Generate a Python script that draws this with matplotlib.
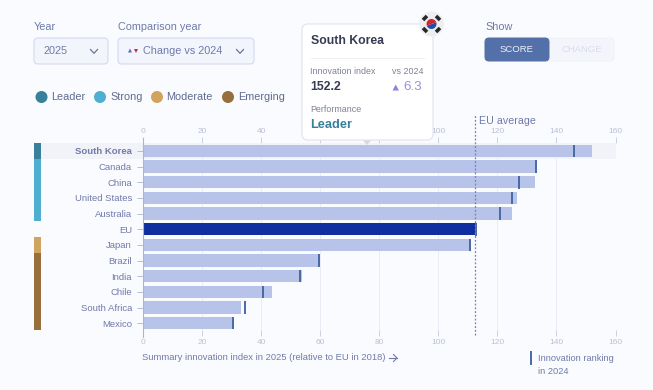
import matplotlib
matplotlib.use("Agg")
import matplotlib.pyplot as plt
from matplotlib.patches import FancyBboxPatch, Circle, Wedge, Polygon, Rectangle

plt.rcParams['font.family'] = ['Liberation Sans', 'DejaVu Sans']

countries = ["South Korea", "Canada", "China", "United States", "Australia", "EU",
             "Japan", "Brazil", "India", "Chile", "South Africa", "Mexico"]
score_2025 = [152.2, 133.4, 132.9, 126.8, 124.8, 113.0, 111.0, 60.0, 53.8, 43.7, 33.2, 30.8]
score_2024 = [145.9, 133.2, 127.2, 125.0, 120.9, 112.8, 110.6, 59.5, 53.2, 40.8, 34.7, 30.4]
performance = ["Leader", "Strong", "Strong", "Strong", "Strong", None,
               "Moderate", "Emerging", "Emerging", "Emerging", "Emerging", "Emerging"]
legend_names = ["Leader", "Strong", "Moderate", "Emerging"]
perf_colors = {"Leader": "#38809b", "Strong": "#4fafd0", "Moderate": "#d0a35f", "Emerging": "#976f3d"}
x_ticks = [0, 20, 40, 60, 80, 100, 120, 140, 160]
top_hidden = [60, 80]  # sit behind the tooltip
eu_average = 112.4

W, H = 653, 390
BG = "#fafbfe"
TXT = "#6f7ba8"
TICK = "#b9c0d6"
BAR = "#b7c3e8"
EU = "#0f2e9f"
MARK = "#4a68a3"

fig = plt.figure(figsize=(W / 100, H / 100), dpi=100, facecolor=BG)


def box(l, t, r, b):
    return [l / W, 1 - b / H, (r - l) / W, (b - t) / H]


ROW0, STEP = 151.0, 15.65
top, bottom = 143.0, 330.0
ylim = ((bottom - ROW0) / STEP, (top - ROW0) / STEP)

# pale band behind the selected row, runs under the labels too
back = fig.add_axes(box(40, top, 615.5, bottom), facecolor="none", zorder=-1)
back.set_xlim(0, 1)
back.set_ylim(*ylim)
back.axis("off")
back.axhspan(-0.5, 0.5, color="#f1f3f8", lw=0)

# main chart
ax = fig.add_axes(box(143, top, 615.5, bottom), facecolor="none")
ax.set_xlim(0, 160)
ax.set_ylim(*ylim)
rows = list(range(len(countries)))
for t in x_ticks[1:]:
    ax.axvline(t, color="#e9ecf5", lw=0.7, zorder=1)
colors = [EU if c == "EU" else BAR for c in countries]
ax.barh(rows, score_2025, height=0.79, color=colors, zorder=2)
ax.vlines(score_2024, [r - 0.4 for r in rows], [r + 0.4 for r in rows],
          color=MARK, lw=1.4, zorder=3)
ax.plot([eu_average, eu_average], [ylim[0] + 0.32, -2.28], color="#6f80c0", lw=0.9,
        ls=(0, (1.5, 1.5)), zorder=4, clip_on=False)
for s in ["top", "right", "bottom", "left"]:
    ax.spines[s].set_visible(False)
ax.set_xticks(x_ticks)
ax.tick_params(axis="x", length=4, width=0.6, color="#c3c9dc", labelcolor=TICK, labelsize=6, pad=2.5)
top_axis = ax.secondary_xaxis("top")
top_axis.set_xticks(x_ticks)
top_axis.set_xticklabels(["" if t in top_hidden else str(t) for t in x_ticks])
top_axis.tick_params(axis="x", length=4, width=0.6, color="#c3c9dc", labelcolor=TICK, labelsize=6, pad=1.5)
for s in top_axis.spines.values():
    s.set_visible(False)
ax.set_yticks(rows)
ax.set_yticklabels(countries)
ax.tick_params(axis="y", length=4, width=0.6, color="#aab4d4", labelcolor=TXT, labelsize=6.8, pad=4)
ax.get_yticklabels()[0].set_fontweight("bold")

# performance strip
strip = fig.add_axes(box(34, top, 41, bottom), facecolor="none")
strip.set_xlim(0, 1)
strip.set_ylim(*ylim)
strip.axis("off")
for r, p in zip(rows, performance):
    if p is not None:
        strip.barh(r, 1, height=1.0, color=perf_colors[p], lw=0)

# page furniture in pixel coordinates
ui = fig.add_axes([0, 0, 1, 1], facecolor="none", zorder=10)
ui.set_xlim(0, W)
ui.set_ylim(H, 0)
ui.axis("off")
ui.plot([143, 143], [138, 337], color="#aab4d4", lw=0.8, zorder=0)


def rbox(l, t, r, b, fc, ec, rad=4, lw=0.7, z=1):
    p = FancyBboxPatch((l + rad, t + rad), r - l - 2 * rad, b - t - 2 * rad,
                       boxstyle=f"round,pad={rad},rounding_size={rad}",
                       fc=fc, ec=ec, lw=lw, zorder=z)
    ui.add_patch(p)


def chevron(x, y):
    ui.plot([x - 3.5, x, x + 3.5], [y - 2, y + 1.8, y - 2], color="#6a7597", lw=0.9, zorder=3)


ui.text(34, 27, "Year", fontsize=7.8, color=TXT, va="center")
ui.text(118, 27, "Comparison year", fontsize=7.8, color=TXT, va="center")
rbox(34, 38, 108, 64, "#f3f5fd", "#cdd5ef")
rbox(118, 38, 254, 64, "#f3f5fd", "#cdd5ef")
ui.text(44, 50.5, "2025", fontsize=7.8, color=TXT, va="center")
ui.text(143, 50.5, "Change vs 2024", fontsize=7.8, color=TXT, va="center")
chevron(94, 51.5)
chevron(240, 51.5)
ui.add_patch(Polygon([[128, 52.5], [132, 52.5], [130, 48.5]], fc="#6a63c8", ec="none", zorder=3))
ui.add_patch(Polygon([[134, 49], [138, 49], [136, 53]], fc="#d0283c", ec="none", zorder=3))

for name, cx, tx in zip(legend_names, [41.5, 100, 157, 228], [51, 110, 166, 238]):
    ui.add_patch(Circle((cx, 97), 6, fc=perf_colors[name], ec="none"))
    ui.text(tx, 97.5, name, fontsize=7.8, color="#5f6b90", va="center")

# show toggle
ui.text(485, 27, "Show", fontsize=7.8, color=TXT, va="center")
rbox(485, 38, 614, 61, "#f3f5fb", "#f0f2f9")
rbox(485, 38, 549, 61, "#5470a8", "#5470a8", z=2)
ui.text(517, 49.5, "SCORE", fontsize=6.8, color="#eef1fa", ha="center", va="center", zorder=3)
ui.text(582, 49.5, "CHANGE", fontsize=6.8, color="#d8dcef", ha="center", va="center", zorder=3)

# tooltip
rbox(302, 24, 433, 140, "white", "#e3e6ee", rad=6, lw=0.9, z=5)
ui.text(311, 41, "South Korea", fontsize=8.8, fontweight="bold", color="#353b52", va="center", zorder=6)
ui.plot([311, 424], [57.5, 57.5], color="#eceef3", lw=0.7, zorder=6)
ui.text(310.5, 72, "Innovation index", fontsize=6.4, color="#7d8291", va="center", zorder=6)
ui.text(424, 72, "vs 2024", fontsize=6.4, color="#7d8291", va="center", ha="right", zorder=6)
ui.text(310.5, 87.5, "152.2", fontsize=8.8, fontweight="bold", color="#353b52", va="center", zorder=6)
ui.add_patch(Polygon([[392.5, 90.5], [399, 90.5], [395.7, 84.5]], fc="#8f84d8", ec="none", zorder=6))
ui.text(422.5, 87.5, "6.3", fontsize=9.6, color="#9a90dc", va="center", ha="right", zorder=6)
ui.text(310.5, 109, "Performance", fontsize=6.4, color="#7d8291", va="center", zorder=6)
ui.text(310.5, 124.5, "Leader", fontsize=9.2, fontweight="bold", color="#38809b", va="center", zorder=6)
ui.add_patch(Polygon([[363, 140.5], [371, 140.5], [367, 145]], fc="#d5d8e0", ec="none", zorder=6))

# flag
fx, fy = 431.5, 24
ui.add_patch(Circle((fx, fy), 12.5, fc="#eeeef0", ec="none", zorder=7))
ui.add_patch(Wedge((fx, fy), 5, -20, 160, fc="#1f4fa8", ec="none", zorder=8))
ui.add_patch(Wedge((fx, fy), 5, 160, 340, fc="#d5232f", ec="none", zorder=8))
for dx, dy, sx in [(-6.5, -6, -1), (6.5, -6, 1), (-6.5, 6, 1), (6.5, 6, -1)]:
    ui.plot([fx + dx - 2, fx + dx + 2], [fy + dy - 2 * sx, fy + dy + 2 * sx],
            color="#26282e", lw=2.6, zorder=8, solid_capstyle="butt")

ui.text(479, 120.5, "EU average", fontsize=7.7, color=TXT, va="center")
ui.text(142.5, 357.5, "Summary innovation index in 2025 (relative to EU in 2018)", fontsize=6.75,
        color=TXT, va="center")
ui.plot([388.5, 397], [358, 358], color=TXT, lw=0.8)
ui.plot([393.5, 397, 393.5], [354.5, 358, 361.5], color=TXT, lw=0.8)
ui.plot([531, 531], [352, 364], color=MARK, lw=1.4)
ui.text(538.5, 358.5, "Innovation ranking", fontsize=6.7, color=TXT, va="center")
ui.text(538.5, 371, "in 2024", fontsize=6.7, color=TXT, va="center")

fig.savefig("out.png", dpi=100, facecolor=BG)
